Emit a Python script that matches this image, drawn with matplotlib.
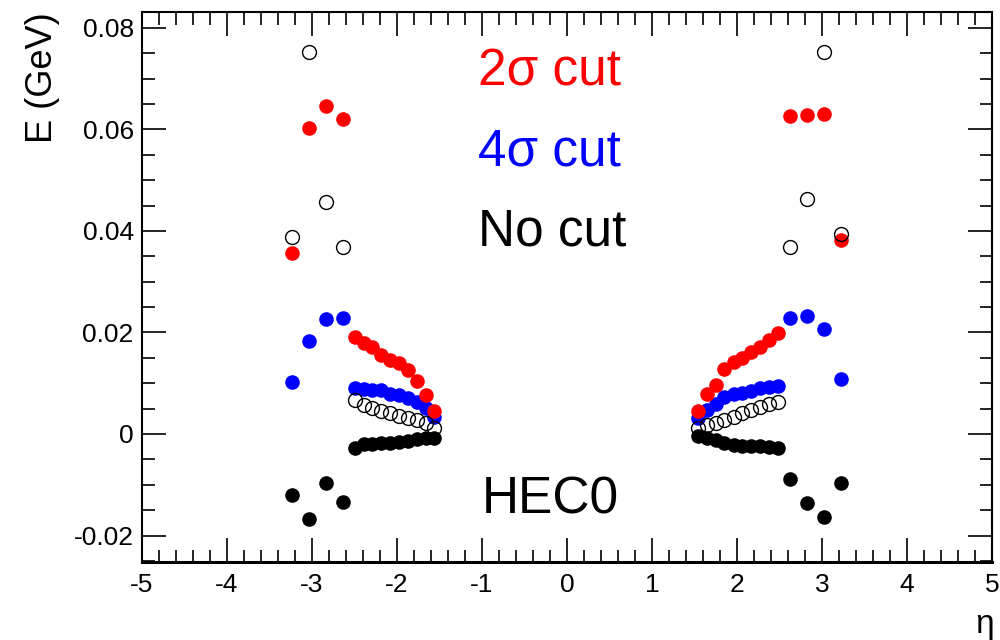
import numpy as np
import matplotlib
matplotlib.use('Agg')
import matplotlib.pyplot as plt
from matplotlib.ticker import MultipleLocator

plt.rcParams['font.family'] = ['Liberation Sans', 'DejaVu Sans']

# eta positions (inner fine bins and outer coarse bins)
eta_neg_in = [-2.49, -2.39, -2.29, -2.19, -2.08, -1.98, -1.87, -1.77, -1.66, -1.56]
eta_pos_in = [1.54, 1.65, 1.75, 1.85, 1.96, 2.06, 2.17, 2.27, 2.38, 2.48]
eta_neg_out = [-3.24, -3.03, -2.84, -2.64]
eta_pos_out = [2.62, 2.82, 3.02, 3.22]

# 2 sigma cut (red)
red_neg_in = [0.0192, 0.0180, 0.0172, 0.0155, 0.0146, 0.0140, 0.0126, 0.0104, 0.0077, 0.0045]
red_pos_in = [0.0045, 0.0078, 0.0096, 0.0128, 0.0142, 0.0150, 0.0162, 0.0172, 0.0185, 0.0198]
red_neg_out = [0.0356, 0.0602, 0.0646, 0.0620]
red_pos_out = [0.0626, 0.0628, 0.0630, 0.0382]

# 4 sigma cut (blue)
blue_neg_in = [0.0090, 0.0089, 0.0087, 0.0086, 0.0079, 0.0077, 0.0070, 0.0064, 0.0052, 0.0034]
blue_pos_in = [0.0031, 0.0047, 0.0060, 0.0072, 0.0079, 0.0081, 0.0084, 0.0090, 0.0093, 0.0094]
blue_neg_out = [0.0102, 0.0183, 0.0226, 0.0228]
blue_pos_out = [0.0229, 0.0232, 0.0207, 0.0108]

# no cut (open circles)
open_neg_in = [0.0066, 0.0057, 0.0051, 0.0045, 0.0041, 0.0036, 0.0031, 0.0028, 0.0021, 0.0011]
open_pos_in = [0.0011, 0.0018, 0.0021, 0.0028, 0.0034, 0.0041, 0.0047, 0.0054, 0.0060, 0.0064]
open_neg_out = [0.0388, 0.0752, 0.0457, 0.0368]
open_pos_out = [0.0368, 0.0463, 0.0752, 0.0394]

# black filled
black_neg_in = [-0.0028, -0.0020, -0.0019, -0.0018, -0.0017, -0.0015, -0.0013, -0.0010, -0.0008, -0.0007]
black_pos_in = [-0.0003, -0.0008, -0.0012, -0.0017, -0.0021, -0.0023, -0.0024, -0.0024, -0.0025, -0.0028]
black_neg_out = [-0.0120, -0.0167, -0.0096, -0.0133]
black_pos_out = [-0.0089, -0.0135, -0.0163, -0.0096]

eta = eta_neg_out + eta_neg_in + eta_pos_in + eta_pos_out

fig = plt.figure(figsize=(10, 6.4), dpi=100)
ax = fig.add_axes([0.142, 0.122, 0.850, 0.859])

ms = 10.5
ax.plot(eta, black_neg_out + black_neg_in + black_pos_in + black_pos_out,
        'o', color='black', ms=ms, mec='none', zorder=3)
ax.plot(eta, blue_neg_out + blue_neg_in + blue_pos_in + blue_pos_out,
        'o', color='blue', ms=ms, mec='none', zorder=3)
ax.plot(eta, red_neg_out + red_neg_in + red_pos_in + red_pos_out,
        'o', color='red', ms=ms, mec='none', zorder=3)
ax.plot(eta, open_neg_out + open_neg_in + open_pos_in + open_pos_out,
        'o', mfc='none', mec='black', mew=1.0, ms=ms - 0.5, zorder=4)

ax.set_xlim(-5, 5)
ax.set_ylim(-0.0252, 0.0831)
ax.xaxis.set_minor_locator(MultipleLocator(0.2))
ax.yaxis.set_minor_locator(MultipleLocator(0.005))
ax.set_xticks([-5, -4, -3, -2, -1, 0, 1, 2, 3, 4, 5])
ax.set_xticklabels(['-5', '-4', '-3', '-2', '-1', '0', '1', '2', '3', '4', '5'])
ax.set_yticks([-0.02, 0, 0.02, 0.04, 0.06, 0.08])
ax.set_yticklabels(['-0.02', '0', '0.02', '0.04', '0.06', '0.08'])
ax.tick_params(which='both', direction='in', top=True, right=True,
               labelsize=19, width=1.2, pad=8)
ax.tick_params(axis='y', pad=6)
ax.tick_params(which='major', length=17)
ax.tick_params(which='minor', length=9)
for s in ax.spines.values():
    s.set_linewidth(1.5)
ax.spines['bottom'].set_linewidth(2.2)

ax.set_ylabel('E (GeV)', fontsize=26, loc='top', labelpad=10)
fig.text(0.985, 0.024, 'η', fontsize=24, ha='center', va='center')

ax.text(-1.05, 0.0713, '2σ cut', color='red', fontsize=37, va='center')
ax.text(-1.05, 0.0555, '4σ cut', color='blue', fontsize=37, va='center')
ax.text(-1.05, 0.0398, 'No cut', color='black', fontsize=37, va='center')
ax.text(-1.0, -0.0130, 'HEC0', color='black', fontsize=37, va='center')

fig.savefig('out.png', dpi=100)
